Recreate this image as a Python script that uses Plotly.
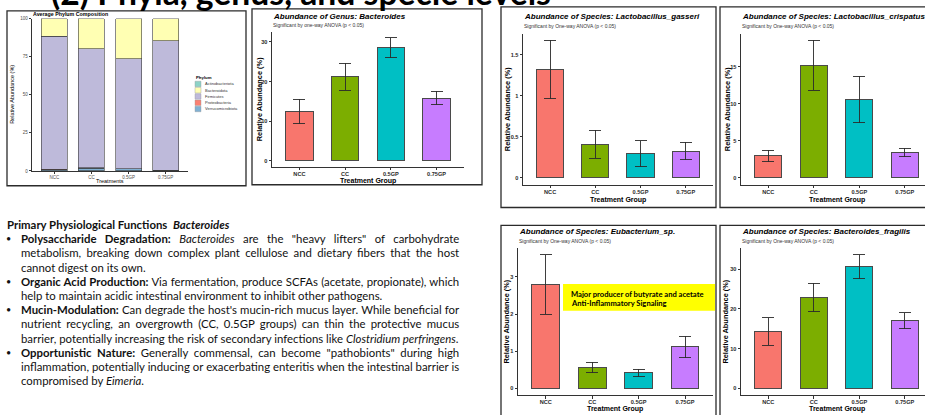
import html
import re
import subprocess

import plotly.graph_objects as go

W, H = 925, 415

# ---------------- data ----------------
groups = ["NCC", "CC", "0.5GP", "0.75GP"]
group_colors = ["#F8766D", "#7CAE00", "#00BFC4", "#C77CFF"]

phyla = ["Actinobacteriota", "Bacteroidota", "Firmicutes", "Proteobacteria", "Verrucomicrobiota"]
phylum_colors = ["#8DD3C7", "#FFFFB3", "#BEBADA", "#FB8072", "#80B1D3"]
actinobacteriota = [0.1, 0.1, 0.1, 0.1]
bacteroidota = [11.5, 19.6, 26.0, 14.3]
firmicutes = [87.4, 78.3, 72.4, 85.1]
proteobacteria = [0.3, 0.2, 0.1, 0.1]
verrucomicrobiota = [0.7, 1.8, 1.4, 0.4]

bacteroides_mean = [12.4, 21.2, 28.5, 15.8]
bacteroides_se = [3.1, 3.4, 2.55, 1.7]
l_gasseri_mean = [1.32, 0.41, 0.295, 0.327]
l_gasseri_se = [0.355, 0.17, 0.16, 0.106]
l_crispatus_mean = [2.96, 15.2, 10.57, 3.43]
l_crispatus_se = [0.76, 3.37, 3.15, 0.55]
eubacterium_mean = [2.80, 0.565, 0.42, 1.12]
eubacterium_se = [0.80, 0.14, 0.105, 0.29]
b_fragilis_mean = [14.3, 22.85, 30.65, 17.07]
b_fragilis_se = [3.45, 3.6, 3.0, 2.03]

slide_title = "(2) Phyla, genus, and specie levels"
heading = "<b>Primary Physiological Functions\u00a0 <i>Bacteroides</i></b>"
bullets = [
    ["<b>Polysaccharide Degradation:</b> <i>Bacteroides</i> are the \"heavy lifters\" of carbohydrate",
     "metabolism, breaking down complex plant cellulose and dietary fibers that the host",
     "cannot digest on its own."],
    ["<b>Organic Acid Production:</b> Via fermentation, produce SCFAs (acetate, propionate), which",
     "help to maintain acidic intestinal environment to inhibit other pathogens."],
    ["<b>Mucin-Modulation:</b> Can degrade the host's mucin-rich mucus layer. While beneficial for",
     "nutrient recycling, an overgrowth (CC, 0.5GP groups) can thin the protective mucus",
     "barrier, potentially increasing the risk of secondary infections like <i>Clostridium perfringens</i>."],
    ["<b>Opportunistic Nature:</b> Generally commensal, can become \"pathobionts\" during high",
     "inflammation, potentially inducing or exacerbating enteritis when the intestinal barrier is",
     "compromised by <i>Eimeria</i>."],
]

eub_note = ["Major producer of butyrate and acetate", "Anti-Inflammatory Signaling"]

# ---------------- text metrics (for sizing and justifying slide text) ----------------
GG = "Liberation Sans"
SLIDE = "Lato"
AXC = "#333333"

TEXT_LEFT, TEXT_RIGHT = 20, 459      # justified column of the bullet list
REF_LINE = bullets[1][1]             # an unjustified line, 362 px wide
REF_LINE_WIDTH = 362
TITLE_WIDTH = 500


def _font_file(spec):
    try:
        out = subprocess.run(["fc-match", "-f", "%{file}", spec], capture_output=True, text=True, timeout=5)
        return out.stdout.strip() or None
    except Exception:
        return None


_faces = {}
try:
    from PIL import ImageFont
    for key, spec in {(False, False): "Lato", (True, False): "Lato:bold",
                      (False, True): "Lato:italic", (True, True): "Lato:bold:italic"}.items():
        path = _font_file(spec)
        _faces[key] = ImageFont.truetype(path, 200) if path else None
    HAVE_METRICS = all(_faces.values())
except Exception:
    HAVE_METRICS = False


def text_width(markup, size):
    """Width in px of a one-line string with <b>/<i> markup."""
    bold = italic = False
    total = 0.0
    for tok in re.split(r"(</?[bi]>)", markup):
        if tok in ("<b>", "</b>"):
            bold = tok == "<b>"
        elif tok in ("<i>", "</i>"):
            italic = tok == "<i>"
        elif tok:
            total += _faces[(bold, italic)].getlength(html.unescape(tok)) * size / 200.0
    return total


if HAVE_METRICS:
    BODY = REF_LINE_WIDTH / text_width(REF_LINE, 1.0)
    TITLE_SIZE = TITLE_WIDTH / text_width("<b>%s</b>" % slide_title, 1.0)
else:
    BODY = 10.5
    TITLE_SIZE = 38.5


def justify_spacing(line):
    if not HAVE_METRICS:
        return 0.0
    n = re.sub(r"</?[bi]>", "", line).count(" ")
    return (TEXT_RIGHT - TEXT_LEFT - text_width(line, BODY)) / max(n, 1)


# ---------------- figure helpers ----------------
def fx(px):
    return px / W


def fy(py):
    return 1 - py / H


fig = go.Figure()
annotations = []
shapes = []


def note(x, y, text, size, color="#000000", family=GG, xanchor="left", yanchor="middle", angle=0):
    annotations.append(dict(x=fx(x), y=fy(y), xref="paper", yref="paper", text=text, showarrow=False,
                            xanchor=xanchor, yanchor=yanchor, textangle=angle,
                            font=dict(family=family, size=size, color=color), borderpad=0))


def frame(x0, y0, x1, y1):
    shapes.append(dict(type="rect", xref="paper", yref="paper", x0=fx(x0), x1=fx(x1), y0=fy(y1), y1=fy(y0),
                       line=dict(color="#2b2b2b", width=1.3), fillcolor="rgba(0,0,0,0)", layer="above"))


def set_axes(idx, x0, x1, ytop, ybot, xrange, yrange, tickfont, **yextra):
    sfx = "" if idx == 1 else str(idx)
    common = dict(showline=True, linecolor=AXC, linewidth=0.9, ticks="outside", tickcolor=AXC, tickwidth=0.9,
                  ticklen=2.5, showgrid=False, zeroline=False, fixedrange=True, tickfont=tickfont)
    fig.update_layout(**{
        "xaxis" + sfx: dict(common, domain=[fx(x0), min(1.0, fx(x1))], anchor="y" + sfx, type="category",
                            categoryorder="array", categoryarray=groups, range=xrange, ticklabelstandoff=-1),
        "yaxis" + sfx: dict(common, domain=[fy(ybot), fy(ytop)], anchor="x" + sfx, range=yrange, **yextra),
    })


# ---------------- panel 1: phylum composition ----------------
frame(7, 9, 246, 186)
stack = [("Verrucomicrobiota", verrucomicrobiota), ("Proteobacteria", proteobacteria),
         ("Firmicutes", firmicutes), ("Bacteroidota", bacteroidota), ("Actinobacteriota", actinobacteriota)]
for name, vals in stack:
    fig.add_trace(go.Bar(x=groups, y=vals, name=name, width=0.7, showlegend=False,
                         marker=dict(color=phylum_colors[phyla.index(name)], line=dict(color="#3a3a3a", width=0.6)),
                         xaxis="x", yaxis="y"))
set_axes(1, 32, 188, 17, 171, [-0.6, 3.6], [0, 100],
         dict(family=GG, size=4.5, color="#4d4d4d"),
         tickvals=[0, 25, 50, 75, 100], ticksuffix="%")
note(32, 12.5, "<b>Average Phylum Composition</b>", 5.3)
note(12, 94, "Relative Abundance (%)", 5.5, angle=-90, xanchor="center")
note(110, 181.5, "Treatments", 5.5, xanchor="center")
note(195, 76, "<b>Phylum</b>", 4.3)
key_rows = [83, 89.3, 95.6, 102, 108.3]
for name, col, yc in zip(phyla, phylum_colors, key_rows):
    shapes.append(dict(type="rect", xref="paper", yref="paper", x0=fx(195), x1=fx(201),
                       y0=fy(yc + 2.8), y1=fy(yc - 2.8), fillcolor=col, line=dict(color="#9a9a9a", width=0.4)))
    note(203.5, yc, name, 4.0, color="#333333")

# ---------------- panels 2-6: bar + SE ----------------
panels = [
    dict(idx=2, title="Abundance of Genus: Bacteroides",
         sub="Significant by one-way ANOVA (p &lt; 0.05)", mean=bacteroides_mean, se=bacteroides_se,
         box=(272, 464, 30, 167), spacing=45.7, ty=15, sy=23, ytx=259, xty=181, frame=(252, 7, 482, 185)),
    dict(idx=3, title="Abundance of Species: Lactobacillus_gasseri",
         sub="Significant by One-way ANOVA (p &lt; 0.05)", mean=l_gasseri_mean, se=l_gasseri_se,
         box=(523, 713, 32, 185), spacing=45.2, ty=15, sy=24, ytx=507, xty=200.5, frame=(501, 5, 716, 208)),
    dict(idx=4, title="Abundance of Species: Lactobacillus_crispatus",
         sub="Significant by One-way ANOVA (p &lt; 0.05)", mean=l_crispatus_mean, se=l_crispatus_se,
         box=(741, 932, 32, 185), spacing=45.5, ty=15, sy=24, ytx=727, xty=200.5, frame=(720, 5, 935, 208)),
    dict(idx=5, title="Abundance of Species: Eubacterium_sp.",
         sub="Significant by One-way ANOVA (p &lt; 0.05)", mean=eubacterium_mean, se=eubacterium_se,
         box=(518, 713, 249, 398), spacing=46.4, ty=232, sy=241.5, ytx=507, xty=412, frame=(501, 226, 716, 425)),
    dict(idx=6, title="Abundance of Species: Bacteroides_fragilis",
         sub="Significant by One-way ANOVA (p &lt; 0.05)", mean=b_fragilis_mean, se=b_fragilis_se,
         box=(741, 932, 249, 398), spacing=45.5, ty=232, sy=241.5, ytx=726, xty=412, frame=(720, 226, 935, 425)),
]

tick_font = dict(family=GG, size=5.6, color="#2a2a2a", weight="bold")
for p in panels:
    i = p["idx"]
    frame(*p["frame"])
    fig.add_trace(go.Bar(
        x=groups, y=p["mean"], width=0.6, showlegend=False,
        marker=dict(color=group_colors, line=dict(color="#4a4a4a", width=1)),
        error_y=dict(type="data", array=p["se"], visible=True, color="#2a2a2a", thickness=0.9, width=6),
        xaxis="x%d" % i, yaxis="y%d" % i))
    x0, x1, ytop, ybot = p["box"]
    top = max(m + s for m, s in zip(p["mean"], p["se"]))
    xr_hi = -0.6 + (min(x1, W) - x0) / p["spacing"]
    set_axes(i, x0, x1, ytop, ybot, [-0.6, xr_hi], [-0.05 * top, 1.05 * top], tick_font)
    note(x0, p["ty"], "<b><i>%s</i></b>" % p["title"], 8.0)
    note(x0, p["sy"], p["sub"], 5.0, color="#333333")
    note(p["ytx"], (ytop + ybot) / 2, "<b>Relative Abundance (%)</b>", 7.4, angle=-90, xanchor="center")
    note(x0 + 2.1 * p["spacing"], p["xty"], "<b>Treatment Group</b>", 7.0, xanchor="center")

# note box on the Eubacterium panel
shapes.append(dict(type="rect", xref="paper", yref="paper", x0=fx(563), x1=fx(715), y0=fy(312.5), y1=fy(285.5),
                   fillcolor="#FFFF00", line=dict(width=0), layer="above"))
note(570, 295.2, "<b>%s</b>" % eub_note[0], 7.6, family=SLIDE)
note(570, 304.6, "<b>%s</b>" % eub_note[1], 7.6, family=SLIDE)

# ---------------- slide text ----------------
note(50, 9 - 0.57 * TITLE_SIZE, "<b>%s</b>" % slide_title, TITLE_SIZE, family=SLIDE, color="#000000")
note(6, 225, heading, BODY, family=SLIDE, color="#111111")
y = 239.5
for para in bullets:
    note(8, y, "\u2022", 9, family=SLIDE, color="#111111", xanchor="center")
    for k, line in enumerate(para):
        ws = justify_spacing(line) if k < len(para) - 1 else 0.0
        txt = line if abs(ws) < 0.01 else '<span style="word-spacing:%.2fpx">%s</span>' % (ws, line)
        note(TEXT_LEFT, y, txt, BODY, family=SLIDE, color="#111111")
        y += 14.4

fig.update_layout(width=W, height=H, margin=dict(l=0, r=0, t=0, b=0), barmode="stack",
                  paper_bgcolor="white", plot_bgcolor="white", annotations=annotations, shapes=shapes)
fig.write_html("out.html")
